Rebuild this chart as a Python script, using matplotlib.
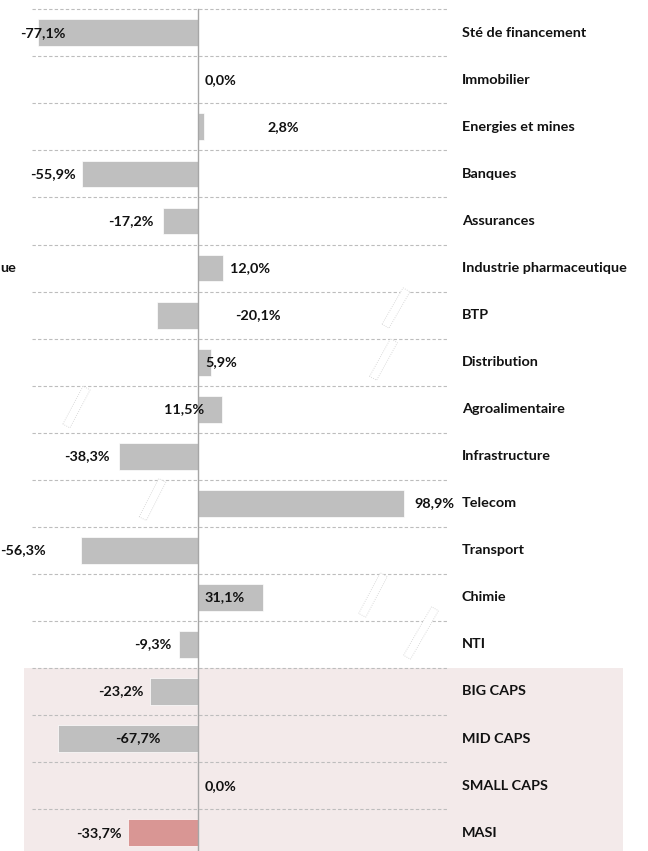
import numpy as np
import matplotlib
matplotlib.use("Agg")
import matplotlib.pyplot as plt
from matplotlib.patches import Polygon, Rectangle

plt.rcParams['font.family'] = ['Lato', 'DejaVu Sans']

# data
secteurs = ["Sté de financement", "Immobilier", "Energies et mines", "Banques",
            "Assurances", "Industrie pharmaceutique", "BTP", "Distribution",
            "Agroalimentaire", "Infrastructure", "Telecom", "Transport",
            "Chimie", "NTI", "BIG CAPS", "MID CAPS", "SMALL CAPS", "MASI"]
variations = [-77.1, 0.0, 2.8, -55.9, -17.2, 12.0, -20.1, 5.9, 11.5, -38.3,
              98.9, -56.3, 31.1, -9.3, -23.2, -67.7, 0.0, -33.7]

# where the value labels sit (x, in % units), manually placed like the original
label_x = [-74.8, 10.8, 40.6, -70.2, -32.5, 24.8, 28.4, 11.1, -7.0, -53.6,
           113.2, -84.4, 12.7, -21.9, -37.5, -29.3, 10.8, -47.8]

W, H = 648, 851
fig = plt.figure(figsize=(W / 100, H / 100), dpi=100)
ax = fig.add_axes([0, 0, 1, 1])

# pixel -> data mapping
px_per_pct = 2.08
x0 = 198.5
row_h = 47.05
row0 = 32.8
ax.set_xlim((0 - x0) / px_per_pct, (W - x0) / px_per_pct)
ax.set_ylim((H - row0) / row_h, (0 - row0) / row_h)
ax.axis('off')

n = len(secteurs)
pos = np.arange(n)

# shaded block for the indices
ax.add_patch(Rectangle(((24 - x0) / px_per_pct, 13.5), (623 - 24) / px_per_pct, 10,
                       facecolor='#f3eaea', edgecolor='none', zorder=0))

# dashed separators
for i in range(n):
    ax.plot([(32 - x0) / px_per_pct, (447 - x0) / px_per_pct], [i - 0.5, i - 0.5],
            color='#bdbdbd', lw=0.8, ls=(0, (3, 2)), zorder=1)

colors = ['#bfbfbf'] * (n - 1) + ['#d99694']
ax.barh(pos, variations, height=0.57, color=colors, edgecolor='white', linewidth=0.5, zorder=2)

ax.plot([0, 0], [-0.5, n + 1], color='#a6a6a6', lw=1.0, zorder=3)

fs = 10.4
for i in range(n):
    txt = f"{variations[i]:.1f}%".replace('.', ',')
    ax.text(label_x[i], pos[i], txt, ha='center', va='center',
            fontsize=fs, fontweight='bold', color='#111111', zorder=4)
    ax.text((462 - x0) / px_per_pct, pos[i], secteurs[i], ha='left', va='center',
            fontsize=fs, fontweight='bold', color='#111111', zorder=4)

# tail of a neighbouring chart's label at the left edge
fig.text(0.5 / W, 1 - 268 / H, "ue", ha='left', va='center',
         fontsize=fs, fontweight='bold', color='#111111')

# faint slanted shapes left on the picture
def slant(cx, cy, L, w, ang):
    t = np.deg2rad(ang)
    u = np.array([np.cos(t), -np.sin(t)])
    v = np.array([np.sin(t), np.cos(t)])
    c = np.array([cx, cy])
    pts = [c - u * L / 2 - v * w / 2, c + u * L / 2 - v * w / 2,
           c + u * L / 2 + v * w / 2, c - u * L / 2 + v * w / 2]
    pts = [(p[0] / W, 1 - p[1] / H) for p in pts]
    fig.add_artist(Polygon(pts, closed=True, facecolor='white', edgecolor='#cfcfcf',
                           lw=0.6, ls=':', transform=fig.transFigure, zorder=5))

slant(76.5, 407, 43, 8, 62)
slant(396, 308, 42, 8, 60)
slant(383.5, 359.5, 43, 8, 61)
slant(152.5, 499.5, 43, 8, 63)
slant(373, 595, 46, 8, 62)
slant(421, 633, 56, 8, 60)

fig.savefig('out.png', dpi=100)
